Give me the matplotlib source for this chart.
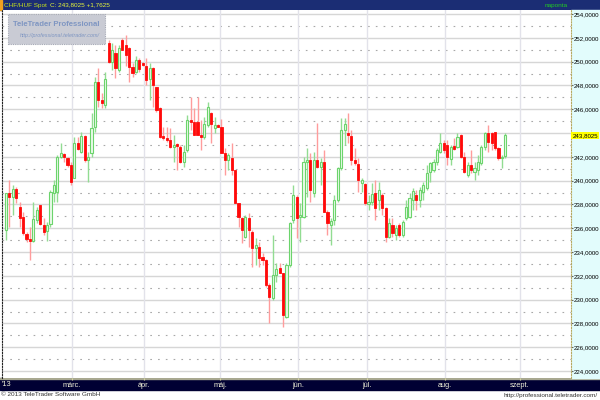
import numpy as np
import matplotlib
matplotlib.use("Agg")
import matplotlib.pyplot as plt
from matplotlib.patches import Rectangle
import matplotlib.transforms as mtransforms

FONT = ["Liberation Sans", "DejaVu Sans"]
plt.rcParams["font.family"] = FONT

# napi OHLC, CHF/HUF spot, 2013 febr. - aug. (leolvasva)
opens = [235.86, 238.94, 238.66, 239.28, 237.76, 236.98, 235.52, 235.10, 234.96, 236.70,
         237.96, 236.28, 235.78, 236.36, 238.94, 239.08, 242.02, 242.24, 241.94, 241.32,
         240.20, 243.14, 242.44, 243.76, 241.74, 242.30, 244.54, 248.32, 246.78, 246.36,
         251.54, 249.99, 250.70, 249.30, 251.82, 251.40, 251.12, 249.58, 249.16, 250.14,
         249.86, 249.64, 248.52, 249.44, 247.84, 246.08, 243.76, 243.62, 243.42, 242.86,
         243.10, 242.86, 241.60, 242.58, 245.10, 244.96, 244.96, 243.84, 243.70, 244.68,
         245.72, 244.40, 244.68, 244.54, 242.30, 241.74, 241.88, 240.90, 238.10, 236.84,
         235.30, 236.84, 235.72, 234.32, 234.46, 233.56, 233.34, 231.24, 230.12, 232.08,
         232.64, 232.22, 228.58, 232.92, 236.70, 238.60, 236.92, 236.98, 241.60, 241.74,
         238.94, 241.74, 241.18, 241.60, 237.40, 236.28, 236.70, 238.38, 241.04, 244.26,
         243.98, 243.76, 241.74, 241.40, 239.78, 239.72, 238.04, 238.24, 238.94, 238.38,
         238.80, 237.68, 235.30, 236.28, 235.44, 236.28, 235.44, 236.84, 236.98, 238.38,
         238.80, 238.38, 239.08, 239.36, 240.76, 240.90, 241.60, 242.44, 243.14, 243.00,
         241.80, 242.90, 242.86, 243.84, 242.02, 240.48, 241.32, 240.76, 240.90, 241.46,
         242.86, 243.98, 243.98, 244.12, 242.72, 241.88, 242.04]
highs = [238.94, 240.06, 239.64, 239.50, 238.24, 237.40, 235.72, 236.14, 238.24, 237.82,
         237.96, 236.84, 236.56, 239.22, 240.06, 242.16, 243.14, 242.36, 242.02, 241.60,
         243.70, 243.70, 244.12, 243.84, 242.44, 245.66, 248.74, 249.44, 247.34, 249.16,
         251.82, 251.54, 251.40, 251.40, 251.96, 252.20, 251.26, 249.86, 250.48, 250.28,
         249.95, 250.28, 249.86, 249.58, 247.90, 246.22, 244.54, 244.54, 244.40, 243.84,
         243.14, 243.00, 243.00, 245.52, 247.06, 246.08, 247.06, 245.10, 245.38, 246.64,
         245.80, 245.32, 244.80, 245.16, 242.72, 242.30, 243.14, 240.90, 238.10, 236.98,
         237.12, 237.26, 235.86, 235.16, 234.88, 233.90, 233.40, 231.38, 235.44, 233.06,
         233.06, 232.28, 233.06, 236.56, 239.64, 238.80, 238.10, 242.02, 242.72, 242.30,
         242.44, 244.82, 241.88, 242.58, 237.54, 236.84, 238.80, 241.18, 245.24, 245.24,
         245.66, 244.26, 242.72, 241.88, 240.20, 239.78, 238.80, 239.78, 240.06, 239.92,
         238.94, 237.82, 236.84, 236.84, 236.28, 236.42, 236.70, 238.38, 238.94, 239.36,
         239.22, 239.50, 239.92, 241.32, 241.60, 241.80, 242.72, 243.98, 243.42, 243.42,
         243.00, 243.56, 243.98, 243.92, 242.44, 241.60, 242.58, 241.60, 242.16, 243.00,
         244.12, 244.68, 244.12, 244.12, 242.86, 242.16, 243.98]
lows = [235.02, 236.14, 237.12, 238.10, 236.14, 235.44, 234.88, 233.34, 234.88, 236.42,
        236.28, 235.44, 234.94, 236.14, 238.24, 238.24, 241.88, 241.60, 241.18, 239.64,
        240.20, 242.58, 242.30, 241.60, 239.92, 242.02, 244.12, 246.22, 246.08, 246.08,
        249.86, 249.30, 248.60, 249.16, 250.98, 249.60, 248.32, 248.74, 249.02, 249.16,
        249.60, 248.04, 246.78, 246.22, 245.80, 243.56, 243.42, 243.28, 242.72, 241.60,
        240.90, 241.46, 241.18, 242.44, 244.26, 243.84, 243.84, 242.58, 243.48, 244.54,
        243.14, 243.98, 244.50, 242.30, 240.48, 240.90, 240.48, 238.10, 236.14, 234.74,
        235.16, 234.46, 232.72, 232.92, 232.78, 232.92, 231.10, 228.00, 229.98, 231.52,
        232.22, 227.74, 228.44, 232.78, 236.42, 235.16, 234.88, 236.84, 238.66, 238.24,
        238.66, 241.04, 239.64, 237.40, 235.44, 234.60, 236.28, 238.24, 240.90, 243.00,
        243.14, 241.32, 241.32, 239.08, 239.08, 237.96, 237.54, 237.96, 236.70, 237.54,
        237.12, 234.88, 235.16, 235.30, 235.02, 235.30, 235.30, 236.70, 236.84, 237.54,
        237.54, 237.82, 238.38, 239.22, 239.92, 240.76, 241.32, 242.30, 242.30, 241.32,
        241.32, 242.58, 242.72, 241.88, 240.62, 240.34, 240.62, 240.06, 240.48, 241.32,
        242.58, 242.44, 242.58, 242.58, 241.74, 241.04, 241.88]
closes = [238.94, 238.66, 239.28, 238.52, 236.84, 235.58, 235.08, 234.96, 236.76, 237.54,
          236.34, 235.72, 236.28, 239.02, 239.64, 242.02, 242.30, 241.96, 241.32, 239.92,
          243.14, 242.64, 243.76, 241.74, 242.02, 244.40, 248.32, 246.78, 246.50, 248.52,
          250.00, 250.98, 249.44, 251.12, 250.98, 250.60, 249.58, 249.02, 250.14, 249.36,
          249.72, 248.46, 249.44, 248.04, 245.94, 243.70, 243.56, 243.42, 242.86, 243.00,
          242.90, 241.60, 242.44, 245.10, 244.96, 243.84, 243.84, 243.70, 244.80, 246.16,
          244.76, 244.68, 244.54, 242.30, 241.74, 242.16, 240.90, 238.16, 236.98, 235.86,
          236.98, 235.86, 234.32, 234.60, 233.48, 233.34, 231.24, 230.26, 232.08, 232.56,
          232.28, 228.72, 232.92, 236.42, 238.80, 236.84, 237.12, 241.60, 241.74, 239.22,
          241.74, 241.18, 241.60, 237.40, 236.42, 236.64, 238.38, 241.04, 244.26, 244.76,
          243.84, 241.74, 241.46, 240.06, 240.06, 238.10, 238.24, 238.88, 237.68, 239.22,
          237.68, 235.30, 236.42, 235.58, 236.00, 235.44, 236.56, 237.82, 238.52, 239.16,
          238.38, 239.22, 239.64, 240.62, 241.46, 241.60, 242.58, 243.14, 242.58, 242.02,
          242.86, 242.64, 243.70, 242.02, 240.76, 241.32, 240.90, 241.04, 241.60, 242.86,
          243.98, 243.28, 243.14, 242.72, 241.88, 242.00, 243.8025]

month_pos = [19.3, 40.4, 62.6, 85.4, 105.6, 128.4, 150.3]
month_labels = ["márc.", "ápr.", "máj.", "jún.", "júl.", "aug.", "szept."]
price_ticks = [224, 226, 228, 230, 232, 234, 236, 238, 240, 242, 246, 248, 250, 252, 254]
last_price = 243.8025
change = 1.7625

W, H = 600, 400


def fx(px):
    return px / W


def fy(py):
    return 1 - py / H


def fmt(v):
    return ("%.4f" % v).replace(".", ",")


fig = plt.figure(figsize=(6, 4), dpi=100)
fig.patch.set_facecolor("white")

# fejléc, alsó sáv, jobb oldali skála háttere
fig.add_artist(Rectangle((0, fy(10)), 1, 10 / H, transform=fig.transFigure,
                         color="#1b2d74", zorder=-1))
fig.add_artist(Rectangle((0, fy(10)), fx(2), 10 / H, transform=fig.transFigure,
                         color="#f0a020", zorder=-1))
fig.add_artist(Rectangle((0, fy(390)), 1, 12 / H, transform=fig.transFigure,
                         color="#000033", zorder=-1))
fig.add_artist(Rectangle((0, fy(379)), 1, 1.5 / H, transform=fig.transFigure,
                         color="#a8a890", zorder=-1))
fig.add_artist(Rectangle((fx(571), fy(378)), fx(600) - fx(571), 368 / H,
                         transform=fig.transFigure, color="#e2fcfc", zorder=-1))

ax = fig.add_axes([fx(2), fy(378), fx(571) - fx(2), 368 / H])
ax.set_xlim((2 - 6) / 3.42, (571 - 6) / 3.42)
ax.set_ylim(223.42, 254.34)

# rács
for v in range(224, 255):
    if v % 2 == 0:
        ax.axhline(v, color="#d6d6d6", lw=1.0, zorder=0)
    else:
        ax.axhline(v, color="#a8a8a8", lw=0.8, ls=(0, (1.5, 5.5)), zorder=0)
for m in month_pos:
    ax.axvline(m, color="#e2e2ea", lw=1.0, zorder=0)

# gyertyák
o = np.array(opens); h = np.array(highs); l = np.array(lows); c = np.array(closes)
x = np.arange(len(c))
up = c >= o
ax.vlines(x[up], l[up], h[up], color="#92dc92", lw=1.0, zorder=2)
ax.vlines(x[~up], l[~up], h[~up], color="#ff9c9c", lw=1.0, zorder=2)
lo = np.minimum(o, c)
bh = np.maximum(np.abs(c - o), 0.08)
ax.bar(x[up], bh[up], bottom=lo[up], width=0.62, color="#eafbea",
       edgecolor="#6cd46c", lw=0.8, zorder=3)
ax.bar(x[~up], bh[~up], bottom=lo[~up], width=0.62, color="#ff0a0a",
       edgecolor="#ff0a0a", lw=0.6, zorder=3)

# tengelyek
for s in ("top", "bottom"):
    ax.spines[s].set_visible(False)
ax.spines["left"].set_linestyle((0, (1, 1.5)))
ax.spines["left"].set_color("#222222")
ax.spines["right"].set_linestyle((0, (1, 1.5)))
ax.spines["right"].set_color("#b8a860")

ax.yaxis.tick_right()
ax.set_yticks(price_ticks)
ax.set_yticklabels([fmt(v) for v in price_ticks])
ax.tick_params(axis="y", length=1.2, pad=0.6, labelsize=4.4, color="#666666",
               labelcolor="black")

ax.set_xticks(month_pos)
ax.set_xticklabels(month_labels)
ax.tick_params(axis="x", length=1.5, pad=1.2, labelsize=5.3, color="#d8d8a0",
               labelcolor="#f0f0d8")

ax.annotate(fmt(last_price), xy=(1.0, last_price),
            xycoords=mtransforms.blended_transform_factory(ax.transAxes, ax.transData),
            xytext=(1.0, 0), textcoords="offset points", ha="left", va="center",
            fontsize=4.4, color="black",
            bbox=dict(boxstyle="square,pad=0.2", fc="#ffff00", ec="none"))

# logó
fig.add_artist(Rectangle((fx(8), fy(44)), fx(105) - fx(8), 30 / H, transform=fig.transFigure,
                         fc="#c9cbd4", ec="#a6aab6", lw=0.8, ls=(0, (1, 1)), zorder=5))
fig.text(fx(56), fy(24), "TeleTrader Professional", ha="center", va="center",
         fontsize=5.6, color="#7f96c2", fontweight="bold", zorder=6)
fig.text(fx(60), fy(36), "http://professional.teletrader.com/", ha="center", va="center",
         fontsize=3.9, color="#7f96c2", style="italic", zorder=6)

# szövegek
fig.text(fx(4), fy(5), "CHF/HUF Spot", ha="left", va="center", fontsize=4.6,
         color="#c8e41c")
fig.text(fx(50), fy(5), "C: %s +%s" % (fmt(last_price), fmt(change)), ha="left",
         va="center", fontsize=4.6, color="#e8f83a")
fig.text(fx(545), fy(5), "naponta", ha="left", va="center", fontsize=4.6,
         color="#22cc22")
fig.text(fx(2), fy(384), "'13", ha="left", va="center", fontsize=5.3,
         color="#f0f0d8")
fig.text(fx(1), fy(395), "© 2013 TeleTrader Software GmbH", ha="left", va="center",
         fontsize=4.6, color="#333333")
fig.text(fx(598), fy(395), "http://professional.teletrader.com/", ha="right",
         va="center", fontsize=4.6, color="#333333")

fig.savefig("out.png", dpi=100)
